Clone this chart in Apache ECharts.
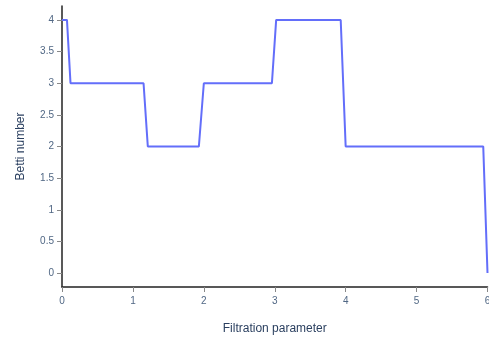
<!DOCTYPE html>
<html><head><meta charset="utf-8">
<script src="https://cdn.jsdelivr.net/npm/echarts@6/dist/echarts.min.js"></script>
<style>html,body{margin:0;padding:0;background:#fff}#c{width:489px;height:339px}</style>
</head><body><div id="c"></div>
<script>
const filtration = [0, 0.07, 0.12, 1.15, 1.21, 1.93, 2.0, 2.96, 3.02, 3.93, 4.0, 5.94, 6.0];
const betti =      [4, 4,    3,    3,    2,    2,    3,   3,    4,    4,    2,   2,    0];
const yTicks = [0, 0.5, 1, 1.5, 2, 2.5, 3, 3.5, 4];
const xTicks = [0, 1, 2, 3, 4, 5, 6];

const chart = echarts.init(document.getElementById('c'), null, {renderer: 'canvas'});
chart.setOption({
  animation: false,
  backgroundColor: '#fff',
  grid: {left: 62, right: 1.5, top: 6, bottom: 52, containLabel: false, outerBoundsMode: 'none'},
  xAxis: {
    type: 'value', min: 0, max: 6,
    name: 'Filtration parameter', nameLocation: 'middle', nameGap: 36,
    nameTextStyle: {color: '#2a3f5f', fontSize: 12, fontFamily: 'Liberation Sans, Arial'},
    axisLine: {show: true, onZero: false, lineStyle: {color: '#222', width: 1.5}},
    axisTick: {show: true, length: 5, lineStyle: {color: '#888'}, customValues: xTicks},
    axisLabel: {color: '#506784', fontSize: 10, margin: 9, fontFamily: 'Liberation Sans, Arial', customValues: xTicks},
    splitLine: {show: false}
  },
  yAxis: {
    type: 'value', min: -0.22, max: 4.22,
    name: 'Betti number', nameLocation: 'middle', nameGap: 35, nameRotate: 90,
    nameTextStyle: {color: '#2a3f5f', fontSize: 12, fontFamily: 'Liberation Sans, Arial'},
    axisLine: {show: true, onZero: false, lineStyle: {color: '#222', width: 1.5}},
    axisTick: {show: true, length: 5, lineStyle: {color: '#888'}, customValues: yTicks},
    axisLabel: {color: '#506784', fontSize: 10, margin: 8, fontFamily: 'Liberation Sans, Arial', customValues: yTicks},
    splitLine: {show: false}
  },
  series: [{
    type: 'line',
    data: filtration.map((x, i) => [x, betti[i]]),
    showSymbol: false,
    lineStyle: {color: '#636efa', width: 2},
    itemStyle: {color: '#636efa'}
  }]
});
</script></body></html>
